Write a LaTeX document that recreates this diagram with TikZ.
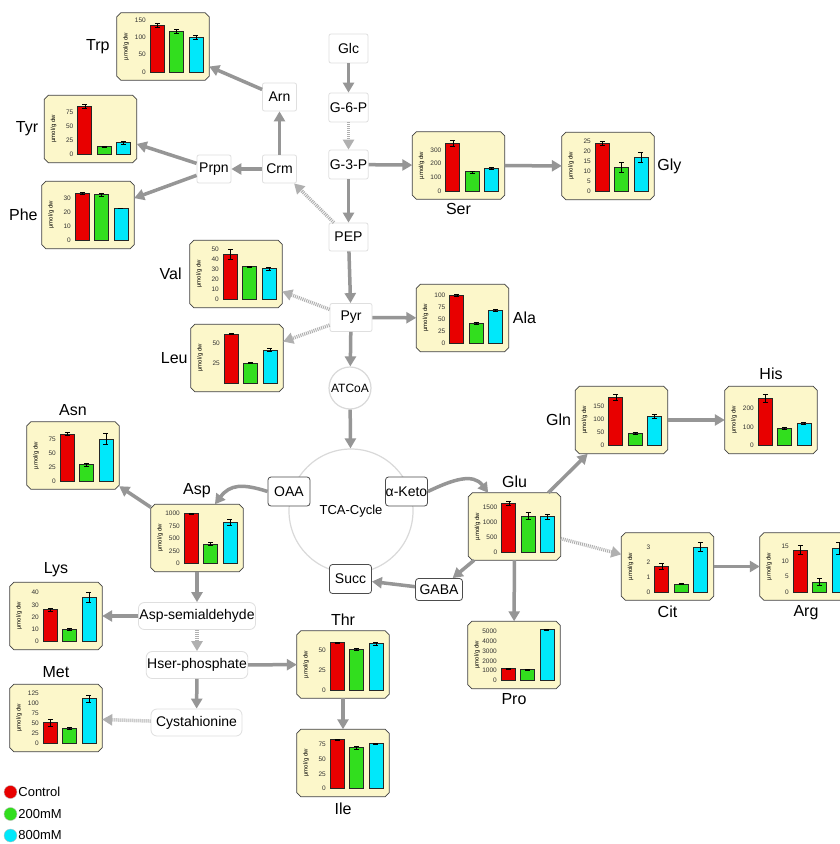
\documentclass[tikz,border=0pt]{standalone}
\usepackage{fontspec}
\setmainfont{Liberation Sans}
\usepackage{tikz}
\usetikzlibrary{positioning}
\usetikzlibrary{arrows.meta}

\definecolor{barred}{RGB}{232,0,0}
\definecolor{bargreen}{RGB}{50,222,30}
\definecolor{barcyan}{RGB}{0,232,250}
\definecolor{chartfill}{RGB}{252,247,202}
\definecolor{arrgray}{RGB}{150,150,150}

\tikzset{
  chart/.style={rectangle, minimum width=92pt, minimum height=67pt, inner sep=0pt},
  chartline/.style={draw=black!75, fill=chartfill, line width=0.8pt},
  ticklab/.style={anchor=east, inner sep=0pt, font=\fontsize{6.5}{6.5}\selectfont, text=black!80},
  ytitle/.style={rotate=90, inner sep=0pt, font=\fontsize{6}{6}\selectfont},
  lab/.style={inner sep=0pt, font=\fontsize{16}{16}\selectfont},
  pathbox/.style={draw=gray!25, fill=white, rounded corners=2pt, line width=0.8pt,
    minimum width=34pt, minimum height=28pt, inner sep=1pt, font=\fontsize{14}{14}\selectfont},
  longbox/.style={draw=gray!25, fill=white, rounded corners=6pt, line width=0.8pt,
    minimum height=27pt, inner sep=1pt, font=\fontsize{14}{14}\selectfont},
  tcabox/.style={draw=black!70, fill=white, rounded corners=3pt, line width=0.8pt,
    minimum width=42pt, minimum height=29pt, inner sep=0pt, font=\fontsize{14}{14}\selectfont},
  ring/.style={circle, draw=gray!30, line width=1.2pt, inner sep=0pt},
  legdot/.style={circle, draw=black!25, minimum size=13pt, inner sep=0pt},
  legtext/.style={inner sep=0pt, font=\fontsize{13}{13}\selectfont},
  arr/.style={draw=arrgray, line width=3.5pt, -{Triangle[length=10pt,width=11pt]}},
  dotarr/.style={arr, draw=arrgray!75, dash pattern=on 1pt off 1pt}
}

% one bar chart box: name, centre, axis max, ticks, value/error/colour
\newcommand{\chartbox}[5]{%
  \node[chart] (#1) at (#2) {};
  \filldraw[chartline] ([xshift=4pt]#1.north west) -- ([xshift=-4pt]#1.north east)
    -- ([yshift=-4pt]#1.north east) -- ([yshift=4pt]#1.south east)
    -- ([xshift=-4pt]#1.south east) -- ([xshift=4pt]#1.south west)
    -- ([yshift=4pt]#1.south west) -- ([yshift=-4pt]#1.north west) -- cycle;
  \begin{scope}[shift={(#1.center)}]
    \node[ytitle] (#1y) at (-37,0) {µmol/g dw};
    \foreach \tk in {#4}
      \node[ticklab] (#1t\tk) at (-17,{25.5-52*(\tk/#3)}) {\tk};
    \foreach \bv/\be/\bc [count=\bi] in {#5} {
      \pgfmathsetmacro{\bx}{-25+19.3*\bi}
      \pgfmathsetmacro{\btop}{25.5-52*(\bv/#3)}
      \pgfmathsetmacro{\blo}{25.5-52*((\bv-\be)/#3)}
      \pgfmathsetmacro{\bhi}{25.5-52*((\bv+\be)/#3)}
      \filldraw[fill=\bc, draw=black!85, line width=0.7pt] ({\bx-7},25.5) rectangle ({\bx+7},\btop);
      \draw[line width=0.5pt] ({\bx-2.5},\blo) -- ({\bx+2.5},\blo)
        (\bx,\blo) -- (\bx,\bhi)
        ({\bx-2.5},\bhi) -- ({\bx+2.5},\bhi);
    }
  \end{scope}
}

\begin{document}
\begin{tikzpicture}[x=1pt, y=-1pt]
\useasboundingbox (0,0) rectangle (840,844);
\clip (0,0) rectangle (840,844);
\fill[white] (0,0) rectangle (840,844);

%%%%%%%%%%%%    pathway boxes   %%%%%%%%%%%%
\node[pathbox, minimum width=39pt, minimum height=29pt] (glc) at (348.5,48.5) {Glc};
\node[pathbox, minimum width=39pt, minimum height=29pt] (g6p) at (348.5,107.5) {G-6-P};
\node[pathbox, minimum width=39pt, minimum height=29pt] (g3p) at (348.5,164.5) {G-3-P};
\node[pathbox, minimum width=39pt] (pep) at (348.5,237) {PEP};
\node[pathbox] (arn) at (279.5,97) {Arn};
\node[pathbox] (crm) at (279.5,169) {Crm};
\node[pathbox] (prpn) at (214,169) {Prpn};
\node[pathbox, minimum width=42pt] (pyr) at (351,317.5) {Pyr};

\node[ring, minimum size=42pt, font=\fontsize{12}{12}\selectfont] (accoa) at (350,388) {ATCoA};
\node[ring, minimum size=124pt, font=\fontsize{13}{13}\selectfont] (tca) at (351,511) {TCA-Cycle};

\node[tcabox] (oaa) at (289,491.5) {OAA};
\node[tcabox] (aketo) at (406.5,491.5) {α-Keto};
\node[tcabox] (succ) at (350.5,579) {Succ};
\node[tcabox, minimum width=47pt, minimum height=22pt] (gaba) at (439,589.5) {GABA};

\node[longbox] (aspsa) at (197,616) {Asp-semialdehyde};
\node[longbox, minimum width=98pt] (hser) at (197,665) {Hser-phosphate};
\node[longbox, minimum width=91pt] (cysta) at (196.5,722.5) {Cystahionine};

%%%%%%%%%%%%    charts   %%%%%%%%%%%%
\chartbox{trp}{163,46.5}{150}{0,50,100,150}{135/5/barred,118/5/bargreen,100/5/barcyan}
\chartbox{tyr}{90.5,129}{93}{0,25,50,75}{86/3/barred,14/1/bargreen,21/2/barcyan}
\chartbox{phe}{88,215}{37}{0,10,20,30}{33.5/0.7/barred,32.5/0.8/bargreen,23/0.3/barcyan}
\chartbox{ser}{458.5,165.5}{380}{0,100,200,300}{350/20/barred,140/8/bargreen,165/5/barcyan}
\chartbox{gly}{608,166}{26}{0,5,10,15,20,25}{24/1/barred,12.3/2.5/bargreen,17/2.5/barcyan}
\chartbox{val}{236,274}{52}{0,10,20,30,40,50}{45/5/barred,33/0.3/bargreen,31/1.5/barcyan}
\chartbox{leu}{237,358}{65}{25,50}{62/1/barred,25.6/0.5/bargreen,42/2/barcyan}
\chartbox{ala}{462.5,318}{108}{0,25,50,75,100}{100/2/barred,42/3/bargreen,69/2/barcyan}
\chartbox{asn}{73,455.5}{93}{0,25,50,75}{84/3/barred,29/2/bargreen,75/10/barcyan}
\chartbox{asp}{197,538}{1040}{0,250,500,750,1000}{1000/5/barred,390/30/bargreen,820/60/barcyan}
\chartbox{lys}{56,616}{42.5}{0,10,20,30,40}{26/1/barred,10/0.5/bargreen,36/4/barcyan}
\chartbox{met}{56,718}{130}{0,25,50,75,100,125}{52/9/barred,38/2/bargreen,112/9/barcyan}
\chartbox{thr}{343,664.5}{65}{0,25,50}{59/1/barred,51/1/bargreen,58/1.5/barcyan}
\chartbox{ile}{343,763}{89}{0,25,50,75}{83.5/1/barred,70/2/bargreen,77/1/barcyan}
\chartbox{glu}{514.5,526.5}{1730}{0,500,1000,1500}{1630/60/barred,1200/120/bargreen,1170/80/barcyan}
\chartbox{pro}{514,655}{5300}{0,1000,2000,3000,4000,5000}{1200/60/barred,1100/50/bargreen,5200/30/barcyan}
\chartbox{gln}{621.5,420}{200}{0,50,100,150}{185/12/barred,46/4/bargreen,112/8/barcyan}
\chartbox{his}{771,420}{280}{0,100,200}{254/20/barred,92/5/bargreen,119/5/barcyan}
\chartbox{cit}{667.5,566.5}{3.47}{0,1,2,3}{1.73/0.2/barred,0.53/0.03/bargreen,3/0.3/barcyan}
\chartbox{arg}{806,566.5}{17}{0,5,10,15}{13.7/1.5/barred,3.3/1.2/bargreen,14.3/2/barcyan}

% labeling
\node[lab, left=7pt of trp] (trplab) {Trp};
\node[lab, left=6pt of tyr] (tyrlab) {Tyr};
\node[lab, left=4pt of phe] (phelab) {Phe};
\node[lab, below=4pt of ser] (serlab) {Ser};
\node[lab, right=3pt of gly] (glylab) {Gly};
\node[lab, left=8pt of val] (vallab) {Val};
\node[lab, left=3pt of leu] (leulab) {Leu};
\node[lab, right=4pt of ala] (alalab) {Ala};
\node[lab, above=6pt of asn] (asnlab) {Asn};
\node[lab, above=6pt of asp] (asplab) {Asp};
\node[lab, above=5pt of lys] (lyslab) {Lys};
\node[lab, above=6pt of met] (metlab) {Met};
\node[lab, above=5pt of thr] (thrlab) {Thr};
\node[lab, below=6pt of ile] (ilelab) {Ile};
\node[lab, above=5pt of glu] (glulab) {Glu};
\node[lab, below=5pt of pro] (prolab) {Pro};
\node[lab, left=4pt of gln] (glnlab) {Gln};
\node[lab, above=6pt of his] (hislab) {His};
\node[lab, below=5pt of cit] (citlab) {Cit};
\node[lab, below=5pt of arg] (arglab) {Arg};

% legend
\node[legdot, fill=barred] (ctrldot) at (10.5,792) {};
\node[legtext, right=1pt of ctrldot] (ctrltext) {Control};
\node[legdot, fill=bargreen] (lowdot) at (10.5,814) {};
\node[legtext, right=1pt of lowdot] (lowtext) {200mM};
\node[legdot, fill=barcyan] (highdot) at (10.5,835.5) {};
\node[legtext, right=1pt of highdot] (hightext) {800mM};

%%%%%%%%%%%%    arrows   %%%%%%%%%%%%
\draw[arr] (glc) -- (g6p);
\draw[dotarr] (g6p) -- (g3p);
\draw[arr] (g3p) -- (pep);
\draw[arr] (g3p) -- (ser);
\draw[arr] (ser) -- (gly);
\draw[dotarr] (pep) -- (crm);
\draw[arr] (crm) -- (arn);
\draw[arr] (arn) -- (trp);
\draw[arr] (crm) -- (prpn);
\draw[arr] (prpn) -- (tyr);
\draw[arr] (prpn) -- (phe);
\draw[arr] (pep) -- (pyr);
\draw[dotarr] (pyr) -- (val);
\draw[dotarr] (pyr) -- (leu);
\draw[arr] (pyr) -- (ala);
\draw[arr] (pyr) -- (accoa);
\draw[arr] (accoa) -- (tca);
\draw[arr] (oaa.west) .. controls +(-25,-8) and +(15,-20) .. (asp.62);
\draw[arr] (aketo.east) .. controls +(25,-12) and +(-15,-20) .. (glu.128);
\draw[arr] (asp) -- (asn);
\draw[arr] (asp) -- (aspsa);
\draw[arr] (aspsa) -- (lys);
\draw[dotarr] (aspsa) -- (hser);
\draw[arr] (hser) -- (thr);
\draw[arr] (hser) -- (cysta);
\draw[dotarr] (cysta) -- (met);
\draw[arr] (thr) -- (ile);
\draw[arr] (glu) -- (gln);
\draw[arr] (gln) -- (his);
\draw[dotarr] (glu) -- (cit);
\draw[arr] (cit) -- (arg);
\draw[arr] (glu) -- (pro);
\draw[arr] (glu) -- (gaba);
\draw[arr] (gaba) -- (succ);

\end{tikzpicture}
\end{document}
